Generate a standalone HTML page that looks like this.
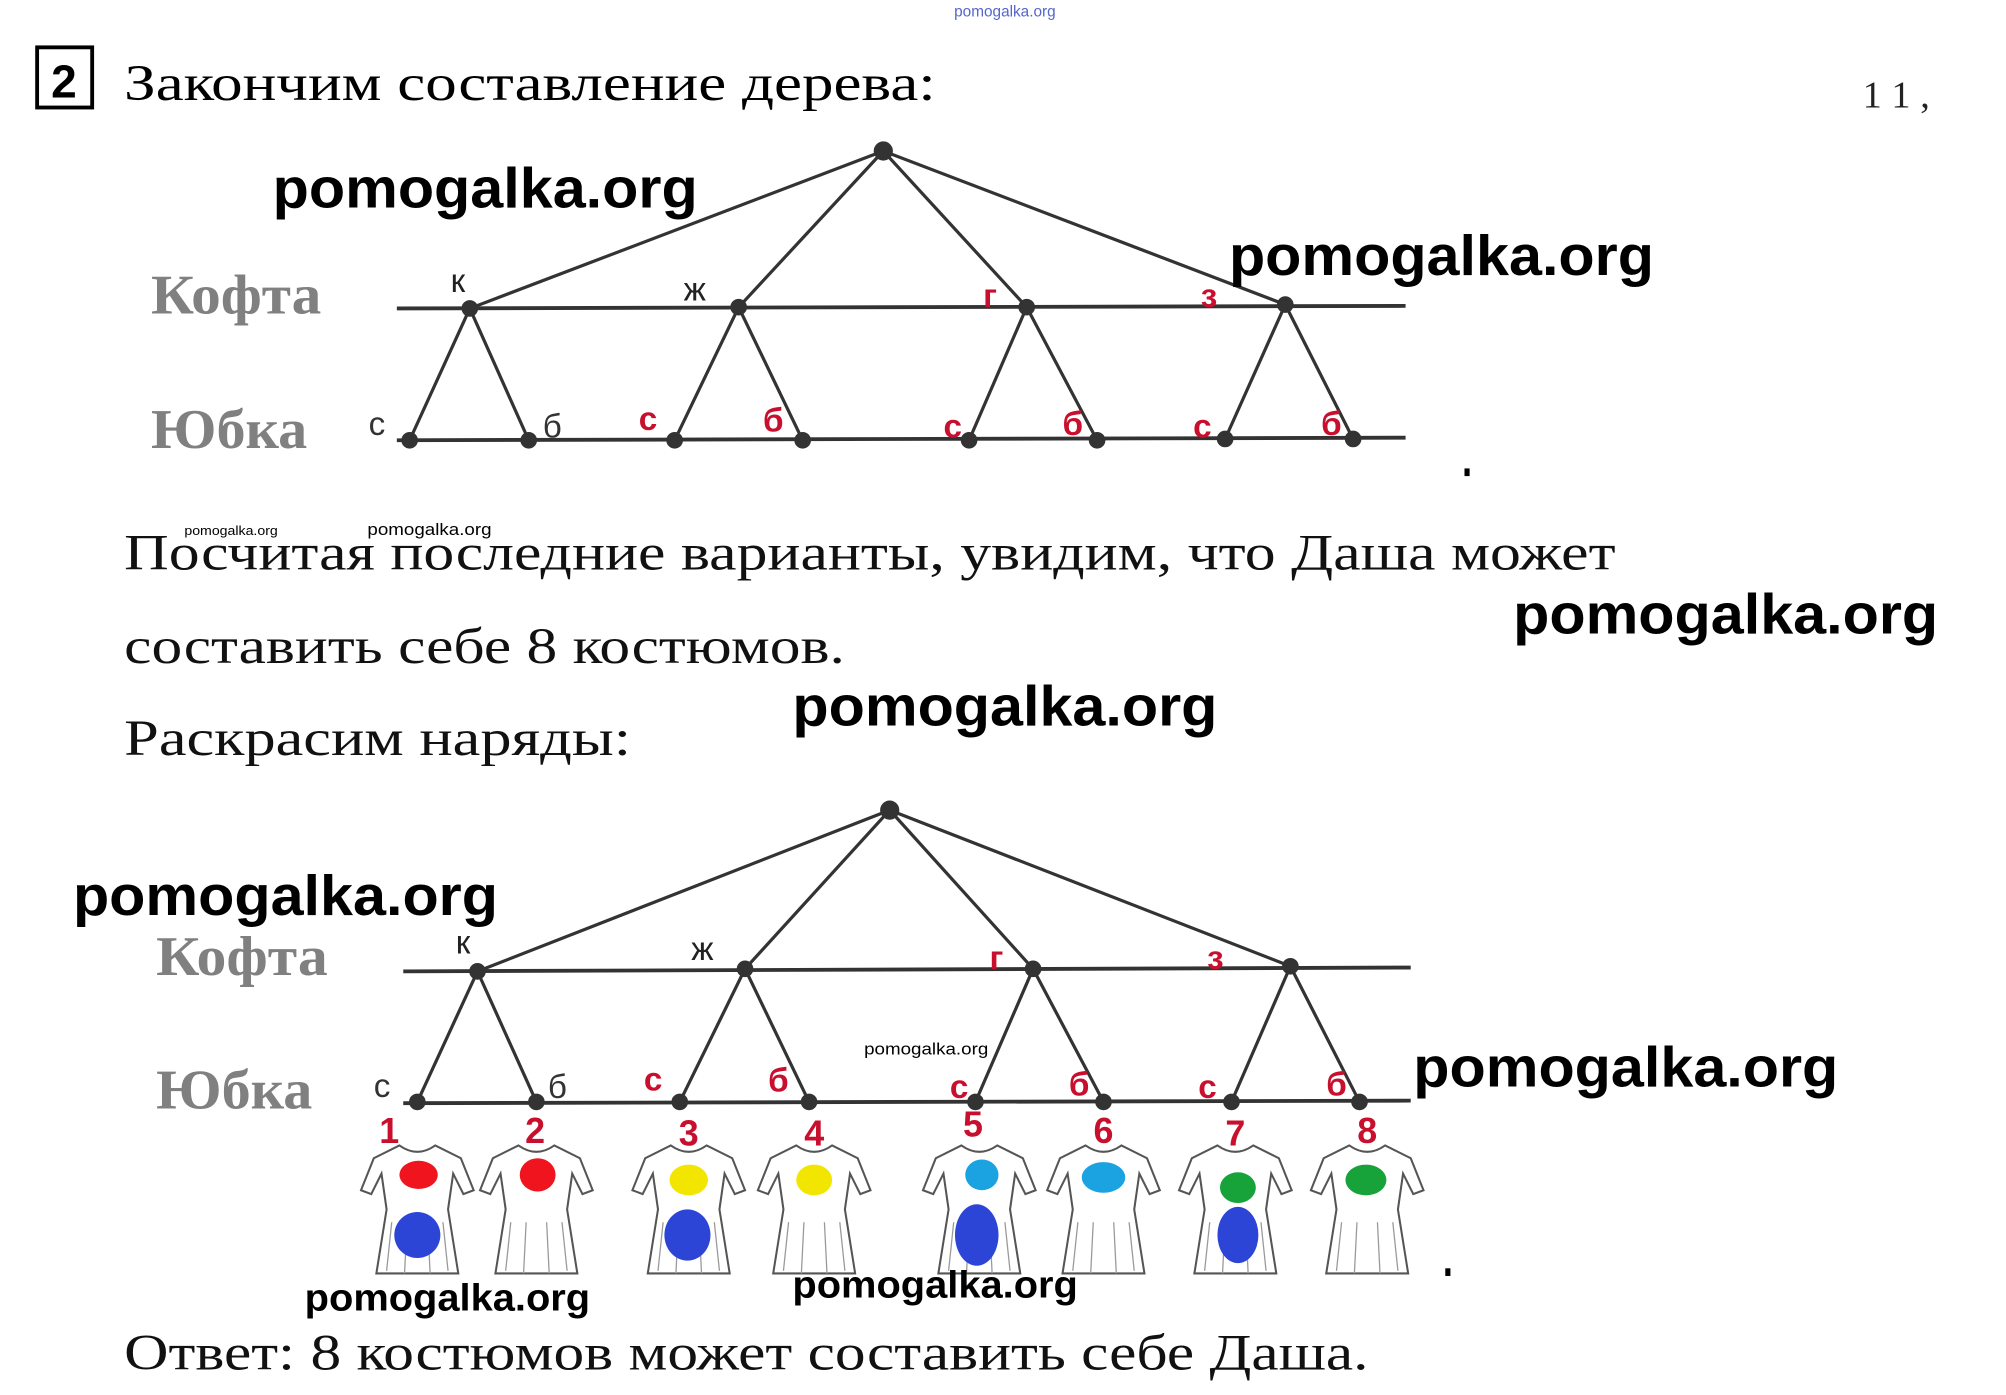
<!DOCTYPE html>
<html><head><meta charset="utf-8"><style>html,body{margin:0;padding:0;background:#fff}svg{display:block}</style></head><body>
<svg width="2006" height="1395" viewBox="0 0 1567 1090" preserveAspectRatio="none" xmlns="http://www.w3.org/2000/svg">
<rect width="1567" height="1090" fill="#fff"/>
<defs>
<g id="dress">
<path d="M-14,-30 L-34,-20 L-44,5 L-36,8 L-28,-8 L-24,20 L-32,70 L32,70 L24,20 L28,-8 L36,8 L44,5 L34,-20 L14,-30 Q0,-20 -14,-30 Z" fill="none" stroke="#555" stroke-width="1.6"/>
<path d="M-20,30 L-24,68 M-8,30 L-10,70 M8,30 L10,70 M20,30 L24,68" stroke="#999" stroke-width="1"/>
</g>
</defs>
<text x="785" y="13" font-family="Liberation Sans,sans-serif" font-size="12" fill="#5566cc" text-anchor="middle">pomogalka.org</text>
<rect x="29" y="37" width="43" height="47" fill="none" stroke="#000" stroke-width="3"/>
<text x="50" y="76" font-family="Liberation Sans,sans-serif" font-size="36" font-weight="bold" text-anchor="middle">2</text>
<text x="97" y="78" font-family="Liberation Serif,serif" font-size="40" textLength="634" lengthAdjust="spacingAndGlyphs">Закончим составление дерева:</text>
<text x="1455" y="84" font-family="Liberation Serif,serif" font-size="30" fill="#222">1 1 ,</text>

<g font-family="Liberation Serif,serif" font-size="44" fill="#808080" font-weight="bold">
<text x="118" y="245" textLength="133" lengthAdjust="spacingAndGlyphs">Кофта</text>
<text x="118" y="350" textLength="122" lengthAdjust="spacingAndGlyphs">Юбка</text>
<text x="122" y="762" textLength="134" lengthAdjust="spacingAndGlyphs">Кофта</text>
<text x="122" y="866" textLength="122" lengthAdjust="spacingAndGlyphs">Юбка</text>
</g>

<g stroke="#333" stroke-width="3" fill="#333">
<line x1="310" y1="241" x2="1098" y2="239"/>
<line x1="310" y1="344" x2="1098" y2="342"/>
<g stroke-width="2.5">
<line x1="690" y1="118" x2="367" y2="241"/><line x1="690" y1="118" x2="577" y2="240"/><line x1="690" y1="118" x2="802" y2="240"/><line x1="690" y1="118" x2="1004" y2="238"/>
<line x1="367" y1="241" x2="320" y2="344"/><line x1="367" y1="241" x2="413" y2="344"/>
<line x1="577" y1="240" x2="527" y2="344"/><line x1="577" y1="240" x2="627" y2="344"/>
<line x1="802" y1="240" x2="757" y2="344"/><line x1="802" y1="240" x2="857" y2="344"/>
<line x1="1004" y1="238" x2="957" y2="343"/><line x1="1004" y1="238" x2="1057" y2="343"/>
</g>
<circle cx="690" cy="118" r="6"/>
<circle cx="367" cy="241" r="5"/><circle cx="577" cy="240" r="5"/><circle cx="802" cy="240" r="5"/><circle cx="1004" cy="238" r="5"/>
<circle cx="320" cy="344" r="5"/><circle cx="413" cy="344" r="5"/><circle cx="527" cy="344" r="5"/><circle cx="627" cy="344" r="5"/><circle cx="757" cy="344" r="5"/><circle cx="857" cy="344" r="5"/><circle cx="957" cy="343" r="5"/><circle cx="1057" cy="343" r="5"/>

<line x1="315" y1="759" x2="1102" y2="756"/>
<line x1="315" y1="862" x2="1102" y2="860"/>
<g stroke-width="2.5">
<line x1="695" y1="633" x2="373" y2="759"/><line x1="695" y1="633" x2="582" y2="757"/><line x1="695" y1="633" x2="807" y2="757"/><line x1="695" y1="633" x2="1008" y2="755"/>
<line x1="373" y1="759" x2="326" y2="861"/><line x1="373" y1="759" x2="419" y2="861"/>
<line x1="582" y1="757" x2="531" y2="861"/><line x1="582" y1="757" x2="632" y2="861"/>
<line x1="807" y1="757" x2="762" y2="861"/><line x1="807" y1="757" x2="862" y2="861"/>
<line x1="1008" y1="755" x2="962" y2="861"/><line x1="1008" y1="755" x2="1062" y2="861"/>
</g>
<circle cx="695" cy="633" r="6"/>
<circle cx="373" cy="759" r="5"/><circle cx="582" cy="757" r="5"/><circle cx="807" cy="757" r="5"/><circle cx="1008" cy="755" r="5"/>
<circle cx="326" cy="861" r="5"/><circle cx="419" cy="861" r="5"/><circle cx="531" cy="861" r="5"/><circle cx="632" cy="861" r="5"/><circle cx="762" cy="861" r="5"/><circle cx="862" cy="861" r="5"/><circle cx="962" cy="861" r="5"/><circle cx="1062" cy="861" r="5"/>
</g>

<g font-family="Liberation Sans,sans-serif" font-size="26" font-weight="bold">
<text x="352" y="228" fill="#222" font-weight="normal">к</text>
<text x="534" y="235" fill="#222" font-weight="normal">ж</text>
<text x="768" y="240" fill="#c8102e">г</text>
<text x="938" y="240" fill="#c8102e">з</text>
<text x="288" y="340" fill="#333" font-weight="normal">с</text>
<text x="424" y="342" fill="#333" font-weight="normal">б</text>
<text x="499" y="336" fill="#c8102e">с</text>
<text x="596" y="337" fill="#c8102e">б</text>
<text x="737" y="342" fill="#c8102e">с</text>
<text x="830" y="340" fill="#c8102e">б</text>
<text x="932" y="342" fill="#c8102e">с</text>
<text x="1032" y="340" fill="#c8102e">б</text>

<text x="356" y="745" fill="#222" font-weight="normal">к</text>
<text x="540" y="750" fill="#222" font-weight="normal">ж</text>
<text x="773" y="757" fill="#c8102e">г</text>
<text x="943" y="757" fill="#c8102e">з</text>
<text x="292" y="857" fill="#333" font-weight="normal">с</text>
<text x="428" y="858" fill="#333" font-weight="normal">б</text>
<text x="503" y="852" fill="#c8102e">с</text>
<text x="600" y="853" fill="#c8102e">б</text>
<text x="742" y="858" fill="#c8102e">с</text>
<text x="835" y="856" fill="#c8102e">б</text>
<text x="936" y="858" fill="#c8102e">с</text>
<text x="1036" y="856" fill="#c8102e">б</text>
<g fill="#c8102e" text-anchor="middle" font-size="28">
<text x="304" y="893">1</text><text x="418" y="893">2</text><text x="538" y="895">3</text><text x="636" y="895">4</text><text x="760" y="888">5</text><text x="862" y="893">6</text><text x="965" y="895">7</text><text x="1068" y="893">8</text>
</g>
</g>

<g>
<use href="#dress" x="326" y="925"/><use href="#dress" x="419" y="925"/><use href="#dress" x="538" y="925"/><use href="#dress" x="636" y="925"/><use href="#dress" x="765" y="925"/><use href="#dress" x="862" y="925"/><use href="#dress" x="965" y="925"/><use href="#dress" x="1068" y="925"/>
<ellipse cx="327" cy="918" rx="15" ry="11" fill="#f0141e"/>
<ellipse cx="420" cy="918" rx="14" ry="13" fill="#f0141e"/>
<ellipse cx="538" cy="922" rx="15" ry="12" fill="#f2e600"/>
<ellipse cx="636" cy="922" rx="14" ry="12" fill="#f2e600"/>
<ellipse cx="767" cy="918" rx="13" ry="12" fill="#1aa3e0"/>
<ellipse cx="862" cy="920" rx="17" ry="12" fill="#1aa3e0"/>
<ellipse cx="967" cy="928" rx="14" ry="12" fill="#18a23a"/>
<ellipse cx="1067" cy="922" rx="16" ry="12" fill="#18a23a"/>
<ellipse cx="326" cy="965" rx="18" ry="18" fill="#2d45d6"/>
<ellipse cx="537" cy="965" rx="18" ry="20" fill="#2d45d6"/>
<ellipse cx="763" cy="965" rx="17" ry="24" fill="#2d45d6"/>
<ellipse cx="967" cy="965" rx="16" ry="22" fill="#2d45d6"/>
</g>

<g font-family="Liberation Serif,serif" font-size="40" fill="#111">
<text x="97" y="445" textLength="1165" lengthAdjust="spacingAndGlyphs">Посчитая последние варианты, увидим, что Даша может</text>
<text x="97" y="518" textLength="563" lengthAdjust="spacingAndGlyphs">составить себе 8 костюмов.</text>
<text x="97" y="590" textLength="396" lengthAdjust="spacingAndGlyphs">Раскрасим наряды:</text>
<text x="97" y="1070" textLength="972" lengthAdjust="spacingAndGlyphs">Ответ: 8 костюмов может составить себе Даша.</text>
</g>

<g font-family="Liberation Sans,sans-serif" font-weight="bold" fill="#000">
<text x="213" y="162" font-size="44" textLength="332" lengthAdjust="spacingAndGlyphs">pomogalka.org</text>
<text x="960" y="215" font-size="44" textLength="332" lengthAdjust="spacingAndGlyphs">pomogalka.org</text>
<text x="1182" y="495" font-size="44" textLength="332" lengthAdjust="spacingAndGlyphs">pomogalka.org</text>
<text x="619" y="567" font-size="44" textLength="332" lengthAdjust="spacingAndGlyphs">pomogalka.org</text>
<text x="57" y="715" font-size="44" textLength="332" lengthAdjust="spacingAndGlyphs">pomogalka.org</text>
<text x="1104" y="849" font-size="44" textLength="332" lengthAdjust="spacingAndGlyphs">pomogalka.org</text>
<text x="238" y="1024" font-size="30" textLength="223" lengthAdjust="spacingAndGlyphs">pomogalka.org</text>
<text x="619" y="1014" font-size="30" textLength="223" lengthAdjust="spacingAndGlyphs">pomogalka.org</text>
<text x="675" y="824" font-size="13" textLength="97" lengthAdjust="spacingAndGlyphs" font-weight="normal">pomogalka.org</text>
<text x="287" y="418" font-size="13" textLength="97" lengthAdjust="spacingAndGlyphs" font-weight="normal">pomogalka.org</text>
<text x="144" y="418" font-size="10" textLength="73" lengthAdjust="spacingAndGlyphs" font-weight="normal">pomogalka.org</text>
</g>
<rect x="1144" y="366" width="4" height="6" fill="#000"/>
<rect x="1129" y="991" width="4" height="6" fill="#000"/>
</svg>
</body></html>
